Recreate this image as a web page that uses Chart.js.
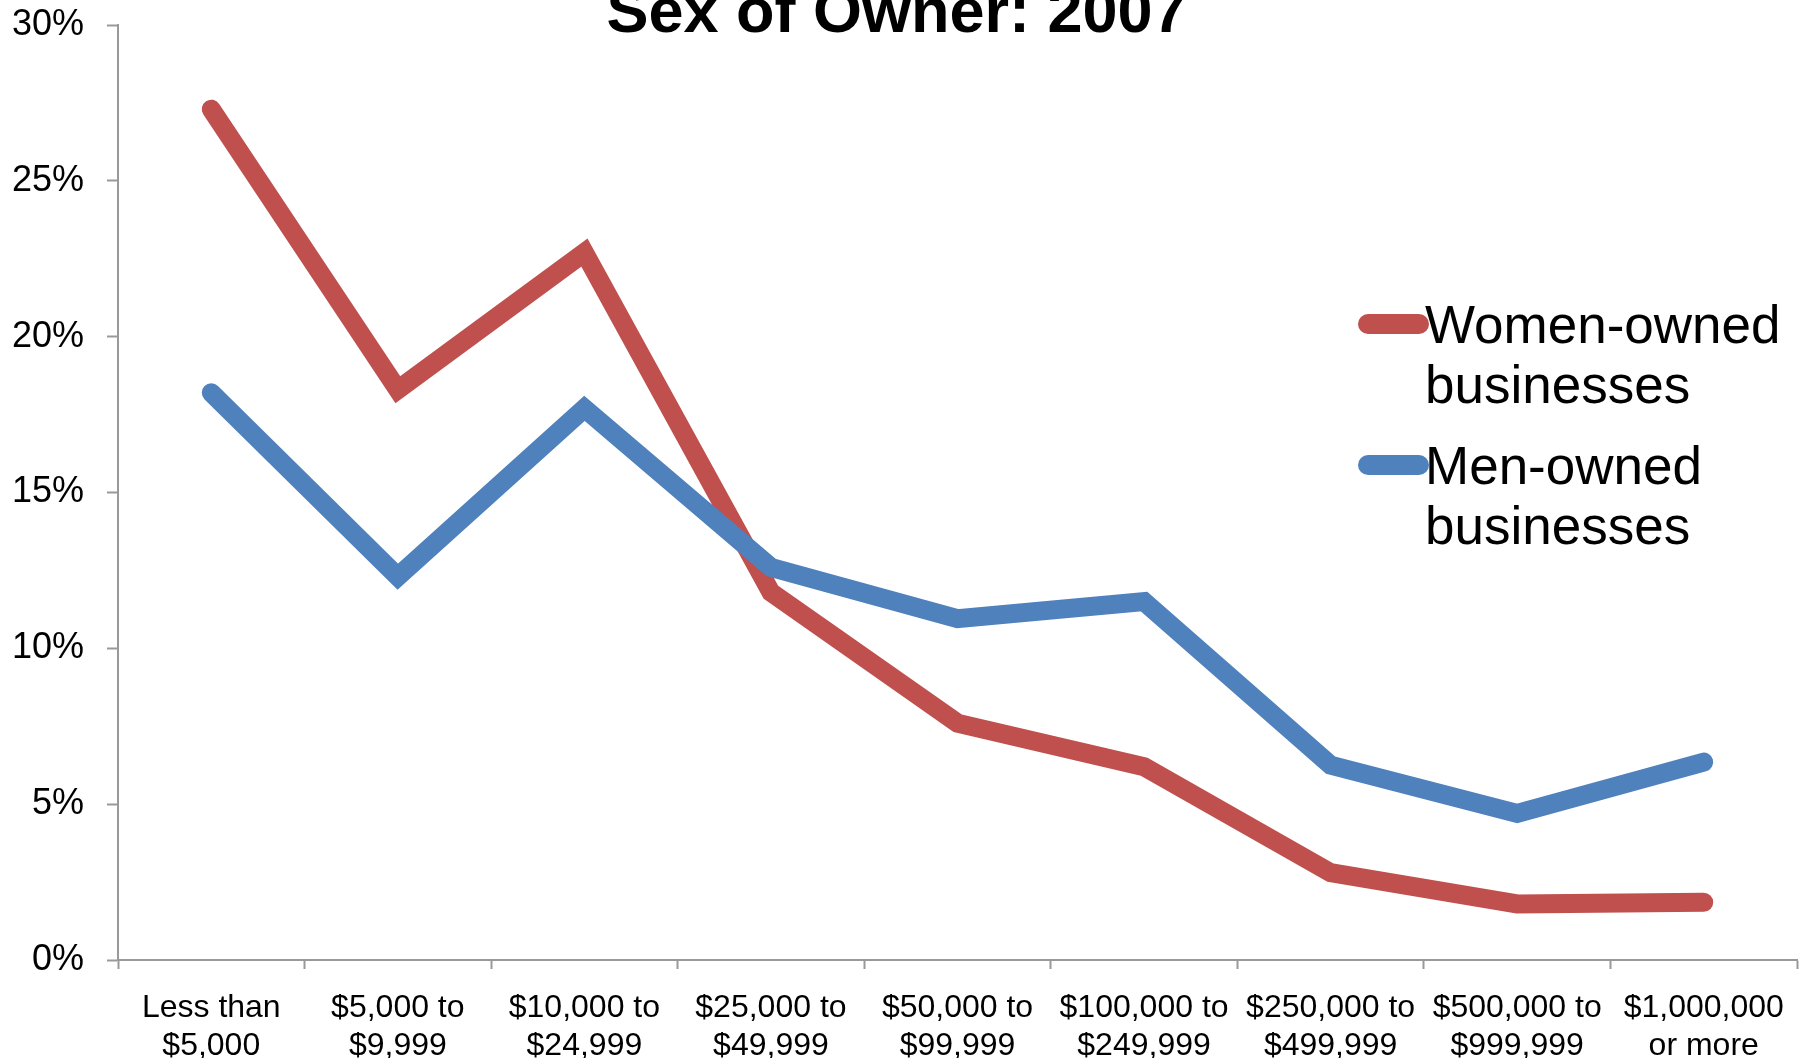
<!DOCTYPE html>
<html>
<head>
<meta charset="utf-8">
<script src="https://cdn.jsdelivr.net/npm/chart.js@4"></script>
<style>
  html, body { margin: 0; padding: 0; background: #fff; }
  #wrap { width: 1808px; height: 1058px; }
</style>
</head>
<body>
<div id="wrap"><canvas id="ownerChart" width="1808" height="1058"></canvas></div>
<script>
const titleText = "Sex of Owner: 2007";
const categories = [
    ["Less than", "$5,000"],
    ["$5,000 to", "$9,999"],
    ["$10,000 to", "$24,999"],
    ["$25,000 to", "$49,999"],
    ["$50,000 to", "$99,999"],
    ["$100,000 to", "$249,999"],
    ["$250,000 to", "$499,999"],
    ["$500,000 to", "$999,999"],
    ["$1,000,000", "or more"],
];
const womenLabel = ["Women-owned", "businesses"];
const menLabel = ["Men-owned", "businesses"];
const womenData = [27.3, 18.3, 22.7, 11.8, 7.6, 6.2, 2.8, 1.8, 1.85];
const menData = [18.2, 12.3, 17.7, 12.6, 10.95, 11.5, 6.25, 4.7, 6.35];
const yTicks = [0, 5, 10, 15, 20, 25, 30];

const axisGrey = "#999999";
const font = "'Liberation Sans', Arial, sans-serif";

// title sits partly above the canvas, legend floats inside the plot
const overlayPlugin = {
    id: "overlay",
    afterDraw(chart) {
        const ctx = chart.ctx;
        ctx.save();
        ctx.fillStyle = "#000";
        ctx.textAlign = "center";
        ctx.textBaseline = "alphabetic";
        ctx.font = "bold 63px " + font;
        ctx.fillText(titleText, 897, 32);

        ctx.textAlign = "left";
        ctx.font = "53px " + font;
        chart.data.datasets.forEach((ds, i) => {
            const lines = ds.legendLines;
            const top = 324 + ds.legendSlot * 141;
            ctx.strokeStyle = ds.borderColor;
            ctx.lineWidth = 20;
            ctx.lineCap = "round";
            ctx.beginPath();
            ctx.moveTo(1368, top);
            ctx.lineTo(1419, top);
            ctx.stroke();
            lines.forEach((t, j) => {
                ctx.fillText(t, 1425, top + 19 + j * 60);
            });
        });
        ctx.restore();
    },
};

const ctx = document.getElementById("ownerChart").getContext("2d");
new Chart(ctx, {
    type: "line",
    data: {
        labels: categories,
        datasets: [
            {
                label: womenLabel.join(" "),
                legendLines: womenLabel,
                legendSlot: 0,
                data: womenData,
                borderColor: "#C0504D",
                backgroundColor: "#C0504D",
                borderWidth: 19,
                borderCapStyle: "round",
                borderJoinStyle: "miter",
                pointRadius: 0,
                tension: 0,
                order: 1,
            },
            {
                label: menLabel.join(" "),
                legendLines: menLabel,
                legendSlot: 1,
                data: menData,
                borderColor: "#4F81BD",
                backgroundColor: "#4F81BD",
                borderWidth: 19,
                borderCapStyle: "round",
                borderJoinStyle: "miter",
                pointRadius: 0,
                tension: 0,
                order: 0,
            },
        ],
    },
    options: {
        responsive: false,
        animation: false,
        layout: { padding: { top: 25, right: 11, left: 0, bottom: 0 } },
        plugins: {
            legend: { display: false },
            title: { display: false },
            tooltip: { enabled: false },
        },
        scales: {
            x: {
                offset: true,
                grid: {
                    offset: true,
                    drawOnChartArea: false,
                    drawTicks: true,
                    tickLength: 9,
                    tickWidth: 2,
                    tickColor: axisGrey,
                },
                border: { color: axisGrey, width: 2 },
                ticks: {
                    color: "#000",
                    font: { family: font, size: 32, lineHeight: 1.2 },
                    padding: 20,
                    maxRotation: 0,
                    autoSkip: false,
                },
                afterFit(scale) {
                    scale.height = 98;
                    scale.paddingLeft = 0;
                    scale.paddingRight = 0;
                },
            },
            y: {
                min: 0,
                max: 30,
                afterBuildTicks(scale) {
                    scale.ticks = yTicks.map(v => ({ value: v }));
                },
                grid: {
                    drawOnChartArea: false,
                    drawTicks: true,
                    tickLength: 11,
                    tickWidth: 2,
                    tickColor: axisGrey,
                },
                border: { color: axisGrey, width: 2 },
                ticks: {
                    color: "#000",
                    font: { family: font, size: 36 },
                    padding: 23,
                    callback: v => v + "%",
                },
                afterFit(scale) {
                    scale.width = 118;
                    scale.paddingTop = 0;
                    scale.paddingBottom = 0;
                },
            },
        },
    },
    plugins: [overlayPlugin],
});
</script>
</body>
</html>
